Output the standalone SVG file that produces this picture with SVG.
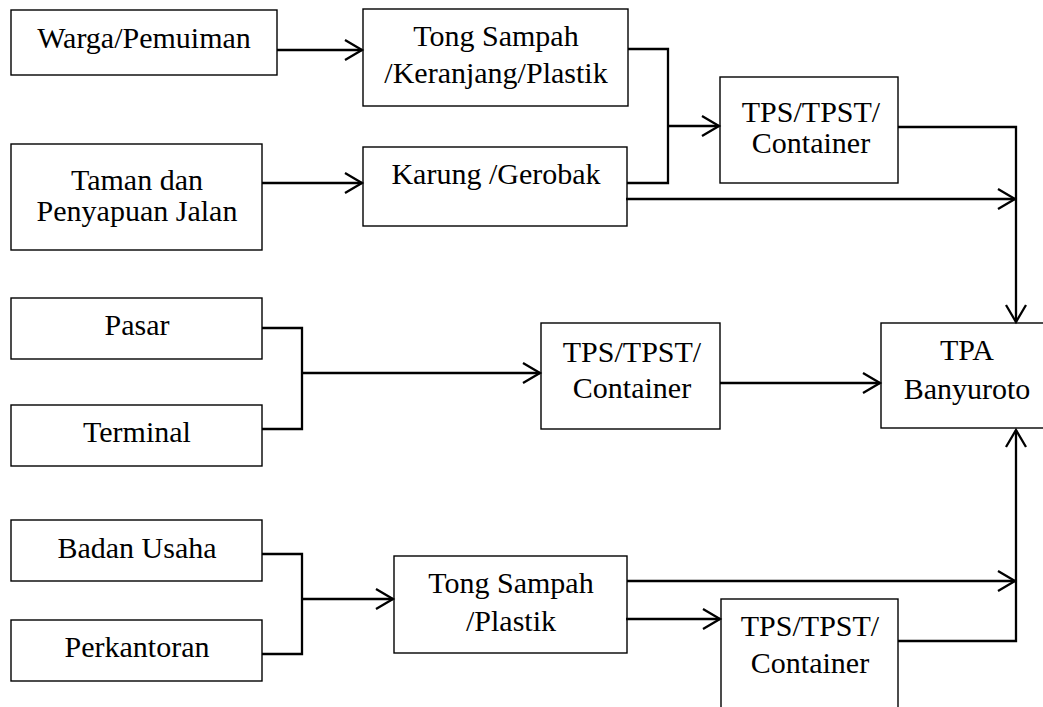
<svg xmlns="http://www.w3.org/2000/svg" width="1043" height="707" viewBox="0 0 1043 707">
<style>
.box{fill:#fff;stroke:#000;stroke-width:1.4}
.t{font-family:"Liberation Serif","Times New Roman",serif;font-size:30px;fill:#000;text-anchor:middle}
.c{fill:none;stroke:#000;stroke-width:2.3}
</style>
<defs>
<marker id="arr" markerUnits="userSpaceOnUse" markerWidth="24" markerHeight="24" viewBox="-20 -12 24 24" refX="0" refY="0" orient="auto" overflow="visible">
<path d="M-17,-10 L0,0 L-17,10" fill="none" stroke="#000" stroke-width="2.3"/>
</marker>
</defs>
<rect width="1043" height="707" fill="#fff"/>
<g id="warga"><rect class="box" x="11" y="10" width="266" height="65"/><text class="t" x="144" y="48">Warga/Pemuiman</text></g>
<g id="taman"><rect class="box" x="11" y="144" width="251" height="106"/><text class="t" x="137" y="190">Taman dan</text><text class="t" x="137" y="221">Penyapuan Jalan</text></g>
<g id="tong1"><rect class="box" x="363" y="9" width="265" height="97"/><text class="t" x="496" y="46">Tong Sampah</text><text class="t" x="496" y="83">/Keranjang/Plastik</text></g>
<g id="karung"><rect class="box" x="363" y="147" width="264" height="79"/><text class="t" x="496" y="184">Karung /Gerobak</text></g>
<g id="tps1"><rect class="box" x="720" y="77" width="178" height="106"/><text class="t" x="811" y="122">TPS/TPST/</text><text class="t" x="811" y="153">Container</text></g>
<g id="pasar"><rect class="box" x="11" y="298" width="251" height="61"/><text class="t" x="137" y="335">Pasar</text></g>
<g id="terminal"><rect class="box" x="11" y="405" width="251" height="61"/><text class="t" x="137" y="442">Terminal</text></g>
<g id="tps2"><rect class="box" x="541" y="323" width="179" height="106"/><text class="t" x="632" y="362">TPS/TPST/</text><text class="t" x="632" y="398">Container</text></g>
<g id="tpa"><rect class="box" x="881" y="323" width="174" height="105"/><text class="t" x="967" y="360">TPA</text><text class="t" x="967" y="399">Banyuroto</text></g>
<g id="badan"><rect class="box" x="11" y="520" width="251" height="61"/><text class="t" x="137" y="558">Badan Usaha</text></g>
<g id="perkantoran"><rect class="box" x="11" y="620" width="251" height="61"/><text class="t" x="137" y="657">Perkantoran</text></g>
<g id="tong2"><rect class="box" x="394" y="556" width="233" height="97"/><text class="t" x="511" y="593">Tong Sampah</text><text class="t" x="511" y="631">/Plastik</text></g>
<g id="tps3"><rect class="box" x="721" y="599" width="177" height="115"/><text class="t" x="810" y="636">TPS/TPST/</text><text class="t" x="810" y="673">Container</text></g>
<g id="connectors">
<path class="c" d="M277,50 H362" marker-end="url(#arr)"/>
<path class="c" d="M262,183 H362" marker-end="url(#arr)"/>
<path class="c" d="M628,49 H668 V183 H627"/>
<path class="c" d="M668,126 H719" marker-end="url(#arr)"/>
<path class="c" d="M626,199 H1015" marker-end="url(#arr)"/>
<path class="c" d="M898,127 H1016 V322" marker-end="url(#arr)"/>
<path class="c" d="M262,328 H302 V429 H262"/>
<path class="c" d="M302,373 H540" marker-end="url(#arr)"/>
<path class="c" d="M720,383 H880" marker-end="url(#arr)"/>
<path class="c" d="M262,554 H302 V654 H262"/>
<path class="c" d="M302,599 H393" marker-end="url(#arr)"/>
<path class="c" d="M627,581 H1015" marker-end="url(#arr)"/>
<path class="c" d="M626,619 H720" marker-end="url(#arr)"/>
<path class="c" d="M898,641 H1016 V430" marker-end="url(#arr)"/>
</g>
</svg>
